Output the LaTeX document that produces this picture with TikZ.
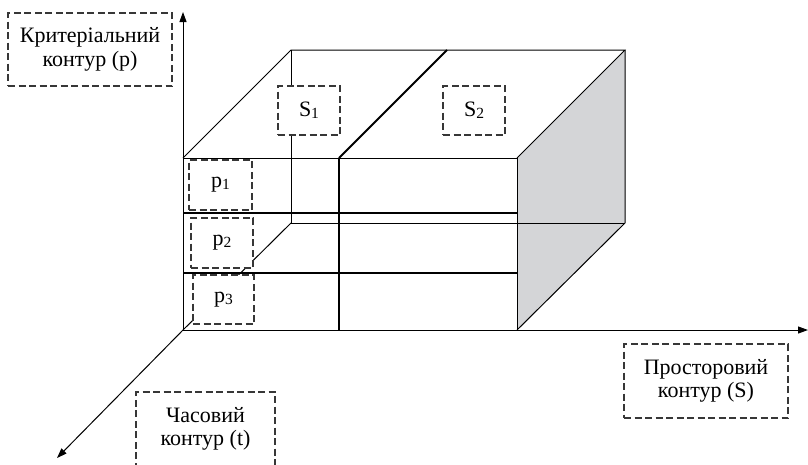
\documentclass[tikz,border=0pt]{standalone}
\usepackage{fontspec}
\setmainfont{Liberation Serif}
\usetikzlibrary{arrows.meta}
\definecolor{facegray}{RGB}{212,213,215}
\definecolor{dashgray}{RGB}{55,55,55}
\newcommand\mysub[1]{\raisebox{-1.8pt}{\fontsize{15.5}{15.5}\selectfont #1}}
\begin{document}
\begin{tikzpicture}[x=1pt,y=-1pt,
  thinedge/.style={line width=1pt, black},
  thickedge/.style={line width=1.8pt, black},
  dashbox/.style={draw=dashgray, line width=1.1pt, dash pattern=on 7pt off 3.5pt},
  lbl/.style={dashbox, fill=white, inner sep=0pt, align=center,
    font=\fontsize{22}{23.5}\selectfont},
  smallbox/.style={dashbox, fill=white, inner sep=0pt,
    font=\fontsize{22}{24}\selectfont},
  axis/.style={line width=1pt, black, -{Triangle[length=10pt,width=7pt]}}]
\clip (0,0) rectangle (808,464);
% corner coordinates
\coordinate (O)  at (183,330);
\coordinate (A)  at (183,158);
\coordinate (B)  at (517,158);
\coordinate (C)  at (517,330);
\coordinate (A2) at (291,50);
\coordinate (B2) at (625,50);
\coordinate (C2) at (625,223);
\coordinate (O2) at (291,223);
\coordinate (M)  at (339,158);
\coordinate (Mb) at (339,330);
\coordinate (M2) at (447,50);
\coordinate (L1a) at (183,213);
\coordinate (L1b) at (517,213);
\coordinate (L2a) at (183,273);
\coordinate (L2b) at (517,273);
\coordinate (Ytip) at (183,12);
\coordinate (Xtip) at (808,330);
\coordinate (Ttip) at (57,458);
% shaded right face
\fill[facegray] (B) -- (B2) -- (C2) -- (C) -- cycle;
% edges
\draw[thinedge] (A) -- (B) -- (C);
\draw[thinedge] (A) -- (A2) -- (B2) -- (B);
\draw[thinedge] (B2) -- (C2) -- (C);
\draw[thinedge] (A2) -- (O2) -- (C2);
\draw[thinedge] (O2) -- (O);
% thick divisions
\draw[thickedge] (M) -- (Mb);
\draw[thickedge] (M) -- (M2);
\draw[thickedge] (L1a) -- (L1b);
\draw[thickedge] (L2a) -- (L2b);
% axes
\draw[axis] (O) -- (Ytip);
\draw[axis] (O) -- (Xtip);
\draw[axis] (O) -- (Ttip);
% small boxes
\node[smallbox, minimum width=63pt, minimum height=50pt] (p1) at (220.5,185) {p\mysub{1}};
\node[smallbox, minimum width=62pt, minimum height=50pt] (p2) at (222,243) {p\mysub{2}};
\node[smallbox, minimum width=61pt, minimum height=49pt] (p3) at (223.5,299.5) {p\mysub{3}};
\node[smallbox, minimum width=62pt, minimum height=49pt] (s1) at (309,110.5) {S\mysub{1}};
\node[smallbox, minimum width=62pt, minimum height=49pt] (s2) at (474,110.5) {S\mysub{2}};
% label boxes
\node[lbl, minimum width=164pt, minimum height=73pt] (crit) at (90,49.5) {Критеріальний\\контур (p)};
\node[lbl, minimum width=164pt, minimum height=74pt] (space) at (706,381) {Просторовий\\контур (S)};
\node[align=center, font=\fontsize{22}{23.5}\selectfont] (time) at (205.5,429) {Часовий\\контур (t)};
\draw[dashbox] (136,480) -- (136,392) -- (275,392) -- (275,480);
\end{tikzpicture}
\end{document}
